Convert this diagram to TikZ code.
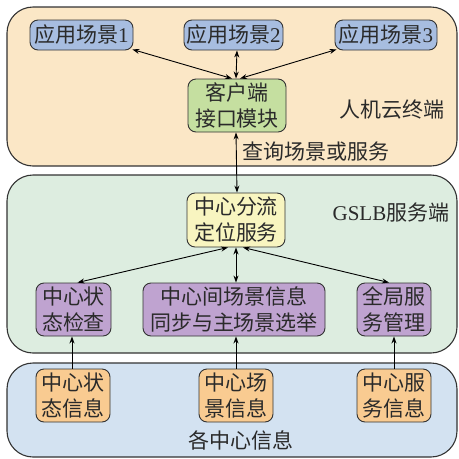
\documentclass[tikz,border=0pt]{standalone}
\usepackage{fontspec}
\setmainfont{Liberation Serif}
\newfontfamily\cjk{Noto Sans CJK SC}
\usetikzlibrary{arrows.meta}
\definecolor{topfill}{HTML}{FBE7C6}
\definecolor{midfill}{HTML}{DDEDE0}
\definecolor{botfill}{HTML}{D3E2F1}
\definecolor{bluebox}{HTML}{A7BDE0}
\definecolor{greenbox}{HTML}{C5DFA0}
\definecolor{yellowbox}{HTML}{F8F5C0}
\definecolor{purplebox}{HTML}{BFA3D0}
\definecolor{orangebox}{HTML}{F9CB91}
\definecolor{edge}{HTML}{333333}
\definecolor{txt}{HTML}{2A2A2A}
\tikzset{
  region/.style={draw=edge, line width=1.1pt, rounded corners=26pt},
  box/.style={draw=edge, line width=0.9pt, rounded corners=8pt, inner sep=0pt, align=center,
    font=\fontsize{21}{26}\selectfont\cjk, text=txt},
  lbl/.style={font=\fontsize{21}{26}\selectfont\cjk, text=txt, inner sep=0pt},
  conn/.style={line width=0.9pt, black},
  tip/.style={arrows={-Stealth[length=7pt,width=5pt]}},
  dtip/.style={arrows={Stealth[length=7pt,width=5pt]-Stealth[length=7pt,width=5pt]}}
}
\begin{document}
\begin{tikzpicture}[x=1pt,y=-1pt]
\useasboundingbox (0,0) rectangle (459,459);
% regions
\draw[region, fill=topfill] (7,7) rectangle (457,166);
\draw[region, fill=midfill] (7,175) rectangle (457,353);
\draw[region, fill=botfill] (7,363) rectangle (457,457);
% top nodes
\node[box, fill=bluebox, minimum width=103pt, minimum height=30pt] (app1) at (81.5,35) {应用场景{\normalfont 1}};
\node[box, fill=bluebox, minimum width=99pt, minimum height=30pt] (app2) at (233.5,35) {应用场景{\normalfont 2}};
\node[box, fill=bluebox, minimum width=102pt, minimum height=30pt] (app3) at (386,35) {应用场景{\normalfont 3}};
\node[box, fill=greenbox, minimum width=98pt, minimum height=53pt] (kh) at (237,105.5) {客户端\\接口模块};
\node[lbl] (l1) at (392,110) {人机云终端};
\node[lbl] (l2) at (316,152) {查询场景或服务};
% middle nodes
\node[box, fill=yellowbox, minimum width=98pt, minimum height=54pt] (zx) at (236,220) {中心分流\\定位服务};
\node[lbl] (l3) at (391,213) {{\normalfont GSLB}服务端};
\node[box, fill=purplebox, minimum width=75pt, minimum height=53pt] (zt) at (73.5,309.5) {中心状\\态检查};
\node[box, fill=purplebox, minimum width=182pt, minimum height=53pt] (cj) at (234,309.5) {中心间场景信息\\同步与主场景选举};
\node[box, fill=purplebox, minimum width=74pt, minimum height=53pt] (qj) at (394,309.5) {全局服\\务管理};
% bottom nodes
\node[box, fill=orangebox, minimum width=74pt, minimum height=53pt] (b1) at (73,395.5) {中心状\\态信息};
\node[box, fill=orangebox, minimum width=74pt, minimum height=53pt] (b2) at (236,395.5) {中心场\\景信息};
\node[box, fill=orangebox, minimum width=74pt, minimum height=53pt] (b3) at (394,395.5) {中心服\\务信息};
\node[lbl] (l4) at (241,440) {各中心信息};
% connectors top
\draw[conn, dtip] ([xshift=-5pt]kh.north) -- ([xshift=-1pt,yshift=1pt]app1.south east);
\draw[conn, dtip] ([xshift=-1pt]kh.north) -- (app2.south -| kh.north);
\draw[conn, dtip] ([xshift=3pt]kh.north) -- ([xshift=2pt,yshift=1pt]app3.south west);
\draw[conn, dtip] ([xshift=-1pt]kh.south) -- (zx.north -| kh.south);
% connectors middle
\draw[conn, dtip] ([xshift=-8pt]zx.south) -- ([xshift=4pt]zt.north);
\draw[conn, dtip] (zx.south) -- (zx.south |- cj.north);
\draw[conn, dtip] ([xshift=7pt]zx.south) -- ([xshift=-5pt]qj.north);
% connectors bottom
\draw[conn, tip] ([xshift=-1pt]b1.north) -- ([xshift=-1pt]b1.north |- zt.south);
\draw[conn, tip] (b2.north) -- (b2.north |- cj.south);
\draw[conn, tip] (b3.north) -- (b3.north |- qj.south);
\end{tikzpicture}
\end{document}
